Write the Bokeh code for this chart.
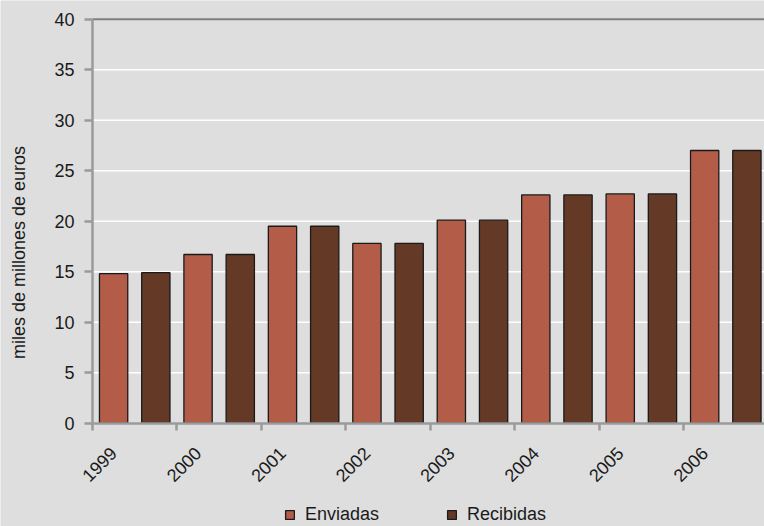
import math
from bokeh.plotting import figure
from bokeh.models import (Range1d, FixedTicker, Label, Legend, LegendItem,
                          ColumnDataSource, LinearAxis)
from bokeh.embed import file_html
from bokeh.resources import INLINE

years = ["1999", "2000", "2001", "2002", "2003", "2004", "2005", "2006"]
enviadas = [14.8, 16.7, 19.5, 17.8, 20.1, 22.6, 22.7, 27.0]
recibidas = [14.9, 16.7, 19.5, 17.8, 20.1, 22.6, 22.7, 27.0]
series_names = ["Enviadas", "Recibidas"]
series_colors = ["#B35D49", "#643A27"]
y_ticks = [0, 5, 10, 15, 20, 25, 30, 35, 40]
y_title = "miles de millones de euros"

FONT = "Liberation Sans"
FS = "18px"
BG = "#dedede"
AXIS = "#9a9a9a"
TXT = "#1a1a1a"

n = len(years)
x_env = [2 * i + 0.5 for i in range(n)]
x_rec = [2 * i + 1.5 for i in range(n)]
x_end = 2 * n - 0.08

# the frame covers the whole canvas; axes sit at fixed data locations
p = figure(width=764, height=526, output_backend="svg", toolbar_location=None,
           x_range=Range1d(-2.179, 15.917), y_range=Range1d(-10.23, 41.85),
           min_border=0, min_border_left=0, min_border_right=0,
           min_border_top=0, min_border_bottom=0,
           x_axis_location=None, y_axis_location=None)
p.background_fill_color = BG
p.border_fill_color = BG
p.outline_line_color = None
p.xgrid.visible = False
p.ygrid.visible = False

# gridlines
grid_y = y_ticks[1:-1]
p.segment(x0=[0] * len(grid_y), x1=[x_end] * len(grid_y), y0=grid_y, y1=grid_y,
          line_color="white", line_width=1.5)
p.segment(x0=[0], x1=[x_end], y0=[y_ticks[-1]], y1=[y_ticks[-1]],
          line_color="#7f7f7f", line_width=2)

src_e = ColumnDataSource(dict(x=x_env, top=enviadas))
src_r = ColumnDataSource(dict(x=x_rec, top=recibidas))
r1 = p.vbar(x="x", top="top", width=0.67, source=src_e, fill_color=series_colors[0],
            line_color="#1a1a1a", line_width=1.3)
r2 = p.vbar(x="x", top="top", width=0.67, source=src_r, fill_color=series_colors[1],
            line_color="#1a1a1a", line_width=1.3)

# y axis
ya = LinearAxis(fixed_location=0, bounds=(y_ticks[0], y_ticks[-1]))
ya.ticker = FixedTicker(ticks=y_ticks)
ya.axis_line_color = AXIS
ya.axis_line_width = 2.5
ya.major_tick_line_color = AXIS
ya.major_tick_line_width = 2.5
ya.major_tick_out = 8
ya.major_tick_in = 0
ya.minor_tick_line_color = None
ya.major_label_text_font = FONT
ya.major_label_text_font_size = FS
ya.major_label_text_color = TXT
ya.major_label_standoff = 10
p.add_layout(ya, "left")

# x axis
xa = LinearAxis(fixed_location=0, bounds=(0, x_end))
xa.ticker = FixedTicker(ticks=x_env, minor_ticks=[2 * i for i in range(n)])
xa.major_label_overrides = {x: y for x, y in zip(x_env, years)}
xa.major_label_orientation = math.pi / 4
xa.axis_line_color = AXIS
xa.axis_line_width = 2.5
xa.major_tick_line_color = None
xa.minor_tick_line_color = AXIS
xa.minor_tick_line_width = 2.5
xa.minor_tick_out = 7
xa.minor_tick_in = 0
xa.major_label_text_font = FONT
xa.major_label_text_font_size = FS
xa.major_label_text_color = TXT
xa.major_label_standoff = 20
p.add_layout(xa, "below")

# y axis title
p.add_layout(Label(x=18, y=274, x_units="screen", y_units="screen",
                   text=y_title, angle=math.pi / 2,
                   text_align="center", text_baseline="middle",
                   text_font=FONT, text_font_size=FS, text_color=TXT))

legend = Legend(items=[LegendItem(label=series_names[0], renderers=[r1]),
                       LegendItem(label=series_names[1], renderers=[r2])],
                orientation="horizontal", location=(284, 1),
                glyph_width=11, glyph_height=11, label_standoff=10, spacing=67,
                label_height=18, padding=0, margin=0, border_line_color=None,
                background_fill_alpha=0, label_text_font=FONT,
                label_text_font_size=FS, label_text_color=TXT)
p.add_layout(legend)

open("out.html", "w").write(file_html(p, INLINE))
